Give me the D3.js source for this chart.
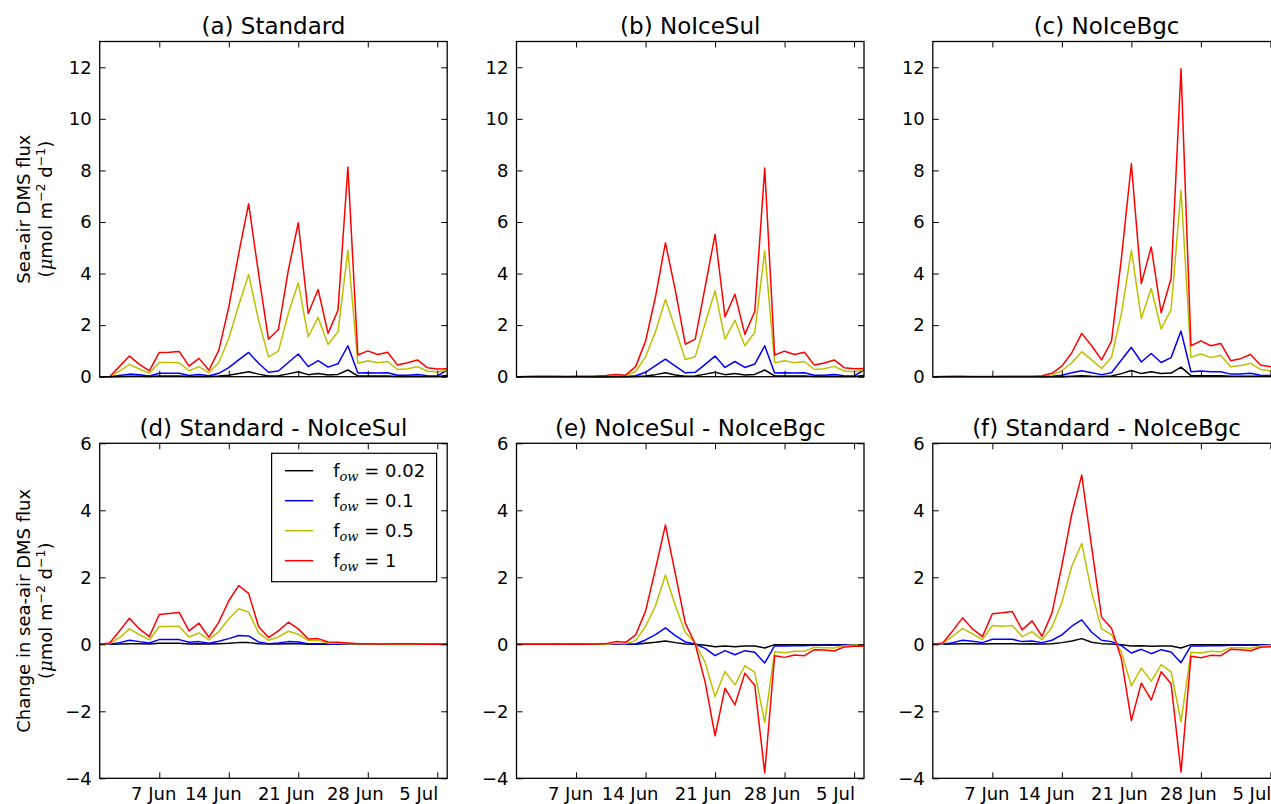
<!DOCTYPE html>
<html><head><meta charset="utf-8">
<script src="https://cdn.jsdelivr.net/npm/d3@7"></script>
<style>
body{margin:0;background:#fff}
svg{display:block}
text{font-family:"DejaVu Sans",sans-serif;fill:#000}
</style>
</head><body>
<svg id="chart" width="1271" height="804"></svg>
<script>
// ---------- data ----------
const firstDay = [2015, 5, 1];   // 1 Jun
const lastDay  = [2015, 6, 6];   // 6 Jul (daily values)
const xTickDays = [[2015,5,7],[2015,5,14],[2015,5,21],[2015,5,28],[2015,6,5]];
const xTickLabels = ["7 Jun","14 Jun","21 Jun","28 Jun","5 Jul"];
const topYTicks = [0,2,4,6,8,10,12];
const bottomYTicks = [-4,-2,0,2,4,6];
const legendValues = ["0.02","0.1","0.5","1"];
const seriesColors = ["#000000","#0000ff","#bfbf00","#ff0000"];
const panelTitles = ["(a) Standard","(b) NoIceSul","(c) NoIceBgc",
  "(d) Standard - NoIceSul","(e) NoIceSul - NoIceBgc","(f) Standard - NoIceBgc"];

// (a) Standard
const standard_002 = [0,0,0.01,0.02,0.02,0.01,0.03,0.03,0.03,0.01,0.02,0.01,0.03,0.06,0.12,0.19,0.1,0.03,0.04,0.11,0.19,0.08,0.12,0.07,0.09,0.26,0.03,0.03,0.03,0.03,0.01,0.01,0.02,0.01,0.01,0.05];
const standard_01  = [0,0,0.05,0.1,0.08,0.03,0.13,0.13,0.13,0.05,0.09,0.04,0.13,0.35,0.65,0.94,0.52,0.17,0.22,0.55,0.88,0.39,0.62,0.37,0.5,1.2,0.14,0.15,0.14,0.15,0.06,0.06,0.09,0.04,0.03,0.26];
const standard_05  = [0,0,0.22,0.48,0.3,0.13,0.55,0.55,0.54,0.23,0.39,0.15,0.55,1.48,2.77,3.96,2.19,0.77,0.99,2.45,3.64,1.55,2.3,1.25,1.74,4.9,0.52,0.62,0.54,0.59,0.28,0.31,0.39,0.21,0.18,0.26];
const standard_1   = [0,0,0.4,0.8,0.48,0.23,0.94,0.95,0.98,0.41,0.71,0.25,1.03,2.7,4.77,6.71,4.0,1.45,1.83,4.13,5.97,2.45,3.38,1.68,2.58,8.13,0.84,1.0,0.86,0.95,0.45,0.54,0.65,0.35,0.3,0.31];
// (b) NoIceSul
const noIceSul_002 = [0,0,0,0,0,0,0,0,0,0,0,0,0.01,0.03,0.08,0.15,0.07,0.02,0.03,0.1,0.17,0.08,0.12,0.07,0.09,0.26,0.03,0.03,0.03,0.03,0.01,0.01,0.02,0.01,0.01,0.05];
const noIceSul_01  = [0,0,0,0,0,0,0,0,0,0,0.01,0.01,0.04,0.17,0.43,0.68,0.41,0.15,0.17,0.48,0.8,0.36,0.59,0.36,0.49,1.2,0.14,0.15,0.14,0.15,0.06,0.06,0.09,0.04,0.03,0.26];
const noIceSul_05  = [0,0,0.01,0.01,0.01,0.01,0.01,0.01,0.02,0.02,0.04,0.03,0.2,0.77,1.74,3.0,1.85,0.67,0.77,2.06,3.33,1.46,2.19,1.2,1.72,4.88,0.54,0.62,0.54,0.59,0.28,0.31,0.4,0.22,0.19,0.27];
const noIceSul_1   = [0,0.01,0.02,0.02,0.02,0.01,0.02,0.02,0.03,0.05,0.09,0.06,0.39,1.38,3.1,5.19,3.35,1.26,1.46,3.48,5.52,2.32,3.2,1.64,2.53,8.09,0.84,0.99,0.86,0.95,0.45,0.53,0.65,0.35,0.31,0.32];
// (c) NoIceBgc
const noIceBgc_002 = [0,0,0,0,0,0,0,0,0,0,0,0,0,0,0.02,0.04,0.02,0.01,0.03,0.12,0.24,0.12,0.19,0.12,0.14,0.37,0.04,0.04,0.04,0.04,0.02,0.02,0.02,0.02,0.02,0.02];
const noIceBgc_01  = [0,0,0,0,0,0,0,0,0,0,0,0,0.02,0.06,0.15,0.23,0.15,0.08,0.15,0.65,1.14,0.57,0.9,0.55,0.74,1.77,0.19,0.22,0.19,0.19,0.1,0.1,0.13,0.06,0.05,0.05];
const noIceBgc_05  = [0,0,0,0,0,0,0,0,0,0,0,0.01,0.06,0.23,0.54,0.97,0.65,0.32,0.75,2.45,4.9,2.26,3.42,1.85,2.6,7.23,0.75,0.88,0.74,0.83,0.39,0.43,0.52,0.28,0.23,0.22];
const noIceBgc_1   = [0,0.01,0.02,0.02,0.01,0.01,0.01,0.02,0.02,0.02,0.02,0.04,0.13,0.41,0.93,1.68,1.2,0.65,1.38,4.6,8.26,3.61,5.03,2.48,3.81,11.94,1.2,1.39,1.2,1.29,0.62,0.7,0.86,0.45,0.39,0.38];
// (d) Standard - NoIceSul
const diffD_002 = [0,0,0.01,0.02,0.02,0.01,0.03,0.03,0.03,0.01,0.02,0.01,0.02,0.03,0.05,0.05,0.02,0.01,0.01,0.02,0.02,0,0,0,0,0,0,0,0,0,0,0,0,0,0,0];
const diffD_01  = [0,0,0.05,0.12,0.08,0.04,0.14,0.14,0.14,0.06,0.08,0.03,0.09,0.17,0.26,0.25,0.07,0.02,0.04,0.08,0.07,0.02,0.02,0.01,0.01,0,0,0,0,0,0,0,0,0,0,0];
const diffD_05  = [0,0.02,0.2,0.46,0.29,0.13,0.53,0.53,0.54,0.22,0.34,0.13,0.38,0.76,1.06,0.96,0.34,0.12,0.22,0.39,0.3,0.11,0.11,0.04,0.03,0.02,0.01,0.01,0.01,0,0,0,0,0,0,0];
const diffD_1   = [0,0.04,0.4,0.78,0.46,0.23,0.89,0.92,0.95,0.4,0.63,0.21,0.66,1.3,1.75,1.52,0.53,0.2,0.4,0.66,0.46,0.16,0.17,0.07,0.06,0.04,0.02,0.02,0.01,0.01,0.01,0.01,0.01,0,0,0];
// (e) NoIceSul - NoIceBgc
const diffE_002 = [0,0,0,0,0,0,0,0,0,0,0,0,0,0.03,0.06,0.1,0.05,0.01,0,-0.03,-0.07,-0.05,-0.07,-0.05,-0.05,-0.11,-0.01,-0.01,-0.01,-0.01,-0.01,-0.01,-0.01,-0.01,-0.01,-0.01];
const diffE_01  = [0,0,0,0,0,0,0,0,0,0,0,0,0.01,0.13,0.29,0.49,0.26,0.07,0.01,-0.12,-0.34,-0.19,-0.31,-0.19,-0.24,-0.56,-0.04,-0.05,-0.04,-0.04,-0.03,-0.03,-0.03,-0.02,-0.02,-0.02];
const diffE_05  = [0,0,0,0,0,0,0,0,0,0,0.03,0.02,0.11,0.54,1.15,2.07,1.15,0.36,0.03,-0.54,-1.56,-0.81,-1.21,-0.64,-0.84,-2.33,-0.22,-0.25,-0.21,-0.21,-0.09,-0.1,-0.11,-0.04,-0.02,-0.02];
const diffE_1   = [0,0,0,0,0.01,0,0.01,0,0.01,0.02,0.08,0.06,0.28,0.99,2.25,3.56,2.1,0.63,0.01,-1.13,-2.73,-1.31,-1.81,-0.86,-1.23,-3.84,-0.34,-0.39,-0.32,-0.34,-0.16,-0.17,-0.2,-0.08,-0.06,-0.06];
// (f) Standard - NoIceBgc
const diffF_002 = [0,0,0.01,0.02,0.02,0.01,0.02,0.02,0.02,0.01,0.02,0.01,0.02,0.05,0.1,0.17,0.06,0.02,0.01,-0.01,-0.05,-0.04,-0.06,-0.05,-0.05,-0.11,-0.01,-0.01,-0.01,-0.01,-0.01,-0.01,-0.01,-0.01,-0.01,-0.01];
const diffF_01  = [0,0,0.05,0.12,0.09,0.05,0.15,0.15,0.15,0.08,0.1,0.05,0.12,0.28,0.54,0.73,0.36,0.12,0.08,-0.04,-0.26,-0.15,-0.28,-0.16,-0.23,-0.55,-0.05,-0.05,-0.04,-0.04,-0.03,-0.03,-0.03,-0.02,-0.02,-0.02];
const diffF_05  = [0,0.02,0.24,0.47,0.31,0.14,0.56,0.54,0.56,0.23,0.38,0.14,0.51,1.25,2.33,3.01,1.55,0.46,0.29,-0.24,-1.24,-0.71,-1.1,-0.61,-0.82,-2.31,-0.24,-0.26,-0.21,-0.22,-0.1,-0.1,-0.12,-0.05,-0.03,-0.03];
const diffF_1   = [0,0.04,0.4,0.79,0.46,0.23,0.91,0.94,0.98,0.43,0.7,0.24,0.93,2.35,3.89,5.05,2.9,0.81,0.48,-0.44,-2.28,-1.16,-1.66,-0.82,-1.18,-3.82,-0.36,-0.4,-0.33,-0.34,-0.15,-0.16,-0.19,-0.09,-0.07,-0.07];

const panelSeries = [
  [standard_002, standard_01, standard_05, standard_1],
  [noIceSul_002, noIceSul_01, noIceSul_05, noIceSul_1],
  [noIceBgc_002, noIceBgc_01, noIceBgc_05, noIceBgc_1],
  [diffD_002, diffD_01, diffD_05, diffD_1],
  [diffE_002, diffE_01, diffE_05, diffE_1],
  [diffF_002, diffF_01, diffF_05, diffF_1]
];

// ---------- layout ----------
const colLeft = [99.7, 516.5, 932.8];
const plotW = 347.5;
const rowTop = [41.5, 443.3];
const rowH = [335.2, 335.0];
const rowDomain = [[0,13],[-4,6]];
const rowTicks = [topYTicks, bottomYTicks];
const xLabelShift = [-6,-16,-12.5,-13,-19];

const utc = a => new Date(Date.UTC(a[0], a[1], a[2]));
const days = d3.utcDay.range(utc(firstDay), d3.utcDay.offset(utc(lastDay), 1));
const tickDates = xTickDays.map(utc);

const svg = d3.select("#chart");
const fmtY = v => (v < 0 ? "\u2212" + Math.abs(v) : String(v));

panelSeries.forEach((series, pi) => {
  const row = Math.floor(pi / 3), col = pi % 3;
  const x = d3.scaleUtc().domain([utc(firstDay), utc(lastDay)]).range([0, plotW]);
  const y = d3.scaleLinear().domain(rowDomain[row]).range([rowH[row], 0]);
  const g = svg.append("g").attr("transform", `translate(${colLeft[col]},${rowTop[row]})`);

  // lines
  const line = d3.line().x((v, i) => x(days[i])).y(v => y(v));
  series.forEach((vals, si) => {
    g.append("path").datum(vals).attr("d", line)
      .attr("fill", "none").attr("stroke", seriesColors[si])
      .attr("stroke-width", 1.5).attr("stroke-linejoin", "round");
  });

  // axes (ticks pointing inward on all four sides)
  const left = g.append("g").call(d3.axisLeft(y).tickValues(rowTicks[row]).tickSize(-6).tickPadding(8).tickFormat(fmtY));
  const right = g.append("g").attr("transform", `translate(${plotW},0)`)
    .call(d3.axisRight(y).tickValues(rowTicks[row]).tickSize(-6).tickFormat(""));
  const bottom = g.append("g").attr("transform", `translate(0,${rowH[row]})`)
    .call(d3.axisBottom(x).tickValues(tickDates).tickSize(-6).tickPadding(9)
      .tickFormat((d, i) => row === 1 ? xTickLabels[i] : ""));
  const top = g.append("g")
    .call(d3.axisTop(x).tickValues(tickDates).tickSize(-6).tickFormat(""));
  [left, right, bottom, top].forEach(a => {
    a.select(".domain").remove();
    a.selectAll(".tick line").attr("stroke", "#000").attr("stroke-width", 1);
    a.selectAll("text").attr("font-size", 18).attr("font-family", "DejaVu Sans").attr("fill", "#000");
  });
  bottom.selectAll(".tick text").attr("dx", (d, i) => xLabelShift[i]);

  g.append("rect").attr("width", plotW).attr("height", rowH[row])
    .attr("fill", "none").attr("stroke", "#000").attr("stroke-width", 1.3);

  g.append("text").attr("x", plotW / 2).attr("y", -7.5)
    .attr("text-anchor", "middle").attr("font-size", 23).text(panelTitles[pi]);

  // legend in panel (d)
  if (pi === 3) {
    const lg = g.append("g").attr("transform", `translate(${plotW - 175.6},10)`);
    lg.append("rect").attr("width", 165).attr("height", 128.4)
      .attr("fill", "#fff").attr("stroke", "#000").attr("stroke-width", 1.2);
    legendValues.forEach((v, i) => {
      const ly = 17.4 + i * 30;
      lg.append("line").attr("x1", 13.3).attr("x2", 41.6).attr("y1", ly).attr("y2", ly)
        .attr("stroke", seriesColors[i]).attr("stroke-width", 1.5);
      const t = lg.append("text").attr("x", 61.6).attr("y", ly + 6).attr("font-size", 18);
      t.append("tspan").text("f");
      t.append("tspan").attr("font-family", "DejaVu Serif").attr("font-style", "italic")
        .attr("font-size", 13).attr("dy", 4).text("ow");
      t.append("tspan").attr("dy", -4).text(" = " + v);
    });
  }
});

// y-axis labels
const yLabels = ["Sea-air DMS flux", "Change in sea-air DMS flux"];
rowTop.forEach((t, r) => {
  const cy = t + rowH[r] / 2;
  svg.append("text").attr("transform", `translate(30,${cy}) rotate(-90)`)
    .attr("text-anchor", "middle").attr("font-size", 18).text(yLabels[r]);
  const u = svg.append("text").attr("transform", `translate(52,${cy}) rotate(-90)`)
    .attr("text-anchor", "middle").attr("font-size", 18);
  u.append("tspan").text("(");
  u.append("tspan").attr("font-family", "DejaVu Serif").attr("font-style", "italic").text("\u03bc");
  u.append("tspan").text("mol m");
  u.append("tspan").attr("font-size", 12.5).attr("dy", -7).text("\u22122");
  u.append("tspan").attr("dy", 7).text(" d");
  u.append("tspan").attr("font-size", 12.5).attr("dy", -7).text("\u22121");
  u.append("tspan").attr("dy", 7).text(")");
});
</script>
</body></html>
